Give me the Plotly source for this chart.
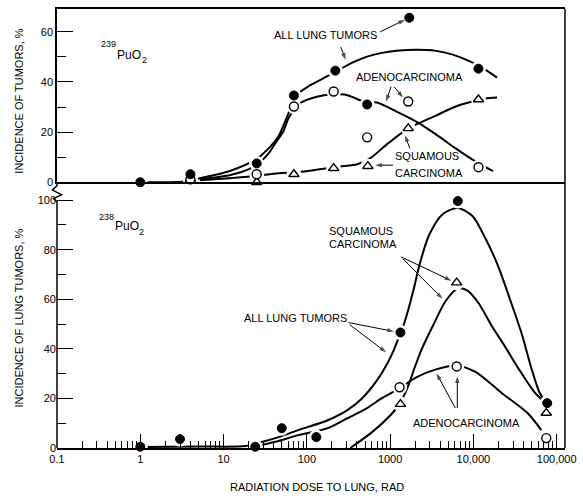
import math
import plotly.graph_objects as go

# ---- 239PuO2 (upper panel): observed incidence, %
top_all_dose = [1, 4, 25, 70, 220, 530, 1700, 11500]
top_all_pct = [0, 3.2, 7.5, 34.6, 44.5, 31.0, 65.6, 45.3]
top_adeno_dose = [4, 25, 70, 210, 530, 1650, 11500]
top_adeno_pct = [1.2, 3.2, 30.2, 36.2, 17.9, 32.2, 6.0]
top_squam_dose = [4, 25, 70, 210, 540, 1650, 11500]
top_squam_pct = [1.2, 0, 3.2, 5.6, 6.4, 21.5, 33.0]

# fitted curves, upper panel
top_all_fit_dose = [1, 3.4, 5.2, 11.7, 24.4, 34.8, 45.7, 60, 74.5, 103, 155, 234, 352, 529,
                    796, 1197, 2062, 3556, 5646, 9220, 13870, 19230]
top_all_fit_pct = [0, 0.3, 1.6, 4.4, 9.1, 13.5, 18.3, 27.4, 34.6, 38.1, 41.3, 44.5, 47.7, 50.1,
                   51.6, 52.4, 52.8, 52.4, 50.9, 48.1, 44.9, 41.7]
top_adeno_fit_dose = [5.2, 11.7, 20.2, 28.0, 34.8, 43.3, 52.3, 60.0, 78.7, 136, 283, 487, 695,
                      1197, 2062, 3556, 6124, 10570, 17230]
top_adeno_fit_pct = [1.2, 2.8, 5.2, 8.3, 11.5, 16.3, 20.3, 25.4, 31.0, 34.2, 35.0, 32.2, 31.8,
                     28.2, 24.2, 19.1, 13.5, 8.3, 4.4]
top_squam_fit_dose = [5.2, 11.7, 23.1, 45.7, 78.7, 210, 403, 574, 912, 1660, 3556, 6124, 9730,
                      13870, 19230]
top_squam_fit_pct = [0.8, 1.6, 2.4, 3.6, 4.0, 6.0, 7.2, 9.5, 15.1, 21.5, 26.6, 30.2, 32.2,
                     33.4, 33.8]

# ---- 238PuO2 (lower panel): observed incidence, %
bot_all_dose = [1, 3, 24, 50, 130, 1330, 6500, 77000]
bot_all_pct = [0.5, 3.6, 0.5, 8.0, 4.4, 46.6, 99.6, 18.1]
bot_adeno_dose = [1300, 6300, 75000]
bot_adeno_pct = [24.5, 32.9, 4.0]
bot_squam_dose = [1330, 6300, 75000]
bot_squam_pct = [17.7, 66.7, 14.1]

# fitted curves, lower panel
bot_all_fit_dose = [1.16, 5.18, 18.6, 28.7, 45.7, 78.7, 178, 307, 462, 695, 912, 1104, 1298,
                    1488, 1901, 2239, 2938, 4302, 6474, 9730, 13870, 19770, 27350, 37940,
                    49800, 61940, 70960]
bot_all_fit_pct = [0.4, 0.6, 0.8, 2.4, 4.4, 7.2, 11.2, 15.3, 20.1, 27.3, 33.7, 39.4, 45.4,
                   50.6, 63.5, 73.5, 85.9, 94.4, 96.8, 93.6, 84.7, 73.5, 60.2, 46.2, 32.1,
                   22.5, 19.3]
bot_adeno_fit_dose = [28.7, 45.7, 78.7, 178, 307, 529, 796, 1298, 2062, 3556, 6124, 10570,
                      22020, 44670, 65470]
bot_adeno_fit_pct = [1.2, 2.8, 5.2, 8.0, 12.0, 16.1, 20.1, 24.1, 28.5, 31.7, 33.3, 30.7,
                     22.1, 14.1, 7.2]
bot_squam_fit_dose = [333, 607, 989, 1298, 1660, 1954, 2364, 3276, 4667, 6474, 8490, 11460,
                      16780, 23880, 35940, 54060, 67170]
bot_squam_fit_pct = [0, 6.4, 12.9, 17.7, 25.3, 32.1, 39.4, 49.4, 59.4, 64.3, 63.5, 58.6,
                     49.0, 41.0, 31.3, 22.5, 19.3]

# label leader arrows: (log10 dose, % at tail), (log10 dose, % at head)
top_arrows = [
    ((2.881, 60.0), (3.178, 64.8)),   # ALL LUNG TUMORS -> point
    ((2.406, 54.0), (2.466, 48.9)),   # ALL LUNG TUMORS -> curve
    ((3.011, 38.1), (2.952, 32.2)),   # ADENOCARCINOMA -> curve
    ((3.047, 38.1), (3.154, 33.8)),   # ADENOCARCINOMA -> point
    ((3.237, 13.5), (3.178, 18.7)),   # SQUAMOUS CARCINOMA -> point
    ((3.035, 6.8), (2.822, 6.8)),     # SQUAMOUS CARCINOMA -> point
]
bot_arrows = [
    ((3.130, 77.1), (3.735, 67.5)),   # SQUAMOUS CARCINOMA -> point
    ((3.154, 76.3), (3.629, 60.2)),   # SQUAMOUS CARCINOMA -> curve
    ((2.501, 50.6), (3.047, 47.0)),   # ALL LUNG TUMORS -> point
    ((2.513, 49.8), (2.952, 38.6)),   # ALL LUNG TUMORS -> curve
    ((3.807, 16.1), (3.807, 28.9)),   # ADENOCARCINOMA -> point
    ((3.783, 16.1), (3.557, 30.1)),   # ADENOCARCINOMA -> curve
]

# axis ticks
x_tick_vals = [0.1, 1, 10, 100, 1000, 10000, 100000]
x_tick_text = ["0.1", "1", "10", "100", "1000", "10,000", "100,000"]
top_y_ticks = [0, 20, 40, 60]
bot_y_ticks = [0, 20, 40, 60, 80, 100]

FONT = "Liberation Sans, Arial, sans-serif"
INK = "black"
TOP_YMAX = 69.1
BOT_YMAX = 107.2
SPLIT = 0.6054

fig = go.Figure()


def curve(xs, ys, xa, ya):
    fig.add_trace(go.Scatter(
        x=xs, y=ys, xaxis=xa, yaxis=ya, mode="lines",
        line=dict(color=INK, width=2, shape="spline", smoothing=0.8),
        cliponaxis=False, hoverinfo="skip"))


def halo(xs, ys, xa, ya):
    fig.add_trace(go.Scatter(
        x=xs, y=ys, xaxis=xa, yaxis=ya, mode="markers",
        marker=dict(size=15, color="white", line=dict(width=0)),
        cliponaxis=False, hoverinfo="skip"))


def points(xs, ys, xa, ya, kind):
    if kind == "filled":
        m = dict(symbol="circle", size=9, color=INK, line=dict(color=INK, width=1))
    elif kind == "open":
        m = dict(symbol="circle", size=9, color="white", line=dict(color=INK, width=1.4))
    else:
        m = dict(symbol="triangle-up", size=9, color="white", line=dict(color=INK, width=1.4))
    fig.add_trace(go.Scatter(x=xs, y=ys, xaxis=xa, yaxis=ya, mode="markers",
                             marker=m, cliponaxis=False))


def leader(tail, head, xa, ya):
    fig.add_trace(go.Scatter(
        x=[10 ** tail[0], 10 ** head[0]], y=[tail[1], head[1]], xaxis=xa, yaxis=ya,
        mode="lines+markers", line=dict(color=INK, width=1),
        marker=dict(symbol="arrow", size=[0, 7], angleref="previous", color=INK,
                    line=dict(width=0)),
        cliponaxis=False, hoverinfo="skip"))


# curves
curve(top_all_fit_dose, top_all_fit_pct, "x2", "y2")
curve(top_adeno_fit_dose, top_adeno_fit_pct, "x2", "y2")
curve(top_squam_fit_dose, top_squam_fit_pct, "x2", "y2")
curve(bot_all_fit_dose, bot_all_fit_pct, "x", "y")
curve(bot_adeno_fit_dose, bot_adeno_fit_pct, "x", "y")
curve(bot_squam_fit_dose, bot_squam_fit_pct, "x", "y")

# white gaps where the curves meet the symbols
for d, p in [(top_all_dose, top_all_pct), (top_adeno_dose, top_adeno_pct),
             (top_squam_dose, top_squam_pct)]:
    halo(d, p, "x2", "y2")
for d, p in [(bot_all_dose, bot_all_pct), (bot_adeno_dose, bot_adeno_pct),
             (bot_squam_dose, bot_squam_pct)]:
    halo(d, p, "x", "y")

# symbols
points(top_squam_dose, top_squam_pct, "x2", "y2", "tri")
points(top_adeno_dose, top_adeno_pct, "x2", "y2", "open")
points(top_all_dose, top_all_pct, "x2", "y2", "filled")
points(bot_squam_dose, bot_squam_pct, "x", "y", "tri")
points(bot_adeno_dose, bot_adeno_pct, "x", "y", "open")
points(bot_all_dose, bot_all_pct, "x", "y", "filled")

# leader arrows
for t, h in top_arrows:
    leader(t, h, "x2", "y2")
for t, h in bot_arrows:
    leader(t, h, "x", "y")

annotations = []


def label(text, logx, pct, xa, ya, xanchor="center", size=11):
    annotations.append(dict(
        text=text, x=logx, y=pct, xref=xa, yref=ya, showarrow=False,
        xanchor=xanchor, yanchor="middle",
        font=dict(family=FONT, size=size, color=INK)))


# upper panel labels
label("239", -0.490, 55.0, "x2", "y2", xanchor="left", size=9)
label("PuO", -0.300, 50.9, "x2", "y2", xanchor="left", size=12)
label("2", -0.005, 48.6, "x2", "y2", xanchor="left", size=9)
label("ALL LUNG TUMORS", 2.227, 58.8, "x2", "y2")
label("ADENOCARCINOMA", 3.232, 42.1, "x2", "y2")
label("SQUAMOUS", 3.035, 10.3, "x2", "y2", xanchor="left")
label("CARCINOMA", 3.035, 3.6, "x2", "y2", xanchor="left")

# lower panel labels
label("238", -0.525, 93.0, "x", "y", xanchor="left", size=9)
label("PuO", -0.330, 89.6, "x", "y", xanchor="left", size=12)
label("2", -0.035, 87.3, "x", "y", xanchor="left", size=9)
label("SQUAMOUS", 2.240, 87.6, "x", "y", xanchor="left")
label("CARCINOMA", 2.240, 82.3, "x", "y", xanchor="left")
label("ALL LUNG TUMORS", 1.866, 52.6, "x", "y")
label("ADENOCARCINOMA", 3.923, 10.0, "x", "y")

# axis titles
annotations.append(dict(text="INCIDENCE OF TUMORS, %", xref="paper", yref="paper",
                        x=-0.075, y=0.791, textangle=-90, showarrow=False,
                        xanchor="center", yanchor="middle",
                        font=dict(family=FONT, size=11, color=INK)))
annotations.append(dict(text="INCIDENCE OF LUNG TUMORS, %", xref="paper", yref="paper",
                        x=-0.075, y=0.297, textangle=-90, showarrow=False,
                        xanchor="center", yanchor="middle",
                        font=dict(family=FONT, size=11, color=INK)))
annotations.append(dict(text="RADIATION DOSE TO LUNG, RAD", xref="paper", yref="paper",
                        x=0.512, y=-0.088, showarrow=False,
                        xanchor="center", yanchor="middle",
                        font=dict(family=FONT, size=11, color=INK)))

minor_x = [m * 10 ** e for e in range(-1, 5) for m in range(2, 10)]

shapes = [
    # right border of both panels
    dict(type="line", xref="paper", yref="paper", x0=1, x1=1, y0=0, y1=1,
         line=dict(color=INK, width=1.5)),
    # lower-panel vertical axis with its scale break
    dict(type="path", xref="paper", yref="y",
         path=(f"M 0,{BOT_YMAX} L 0,105.8 L -0.009,104 L 0.009,102.2 "
               f"L -0.007,100.6 L 0,99.4 L 0,0"),
         line=dict(color=INK, width=1.5)),
]

tickfont = dict(family=FONT, size=11, color=INK)

fig.update_layout(
    width=583, height=499,
    margin=dict(l=57, r=12, t=7, b=51),
    paper_bgcolor="white", plot_bgcolor="white",
    showlegend=False,
    annotations=annotations,
    shapes=shapes,
    xaxis=dict(type="log", range=[-1, 5.1], domain=[0, 1], anchor="y",
               tickmode="array", tickvals=x_tick_vals, ticktext=x_tick_text,
               ticks="inside", ticklen=14, tickwidth=1, tickcolor=INK,
               minor=dict(tickmode="array", tickvals=minor_x, ticks="inside",
                          ticklen=7, tickwidth=1, tickcolor=INK, showgrid=False),
               showline=True, linecolor=INK, linewidth=1.5,
               showgrid=False, zeroline=False, tickfont=tickfont),
    yaxis=dict(range=[0, BOT_YMAX], domain=[0, SPLIT], anchor="x",
               tickmode="array", tickvals=bot_y_ticks,
               ticks="inside", ticklen=16, tickwidth=1, tickcolor=INK,
               minor=dict(dtick=10, tick0=0, ticks="inside", ticklen=9,
                          tickwidth=1, tickcolor=INK, showgrid=False),
               showline=False, showgrid=False, zeroline=False, tickfont=tickfont),
    xaxis2=dict(type="log", range=[-1, 5.1], domain=[0, 1], anchor="y2", matches="x",
                showticklabels=False, ticks="",
                showline=True, mirror=True, linecolor=INK, linewidth=1.5,
                showgrid=False, zeroline=False),
    yaxis2=dict(range=[0, TOP_YMAX], domain=[SPLIT, 1], anchor="x2",
                tickmode="array", tickvals=top_y_ticks,
                ticks="inside", ticklen=16, tickwidth=1, tickcolor=INK,
                minor=dict(dtick=10, tick0=0, ticks="inside", ticklen=9,
                           tickwidth=1, tickcolor=INK, showgrid=False),
                showline=True, linecolor=INK, linewidth=1.5,
                showgrid=False, zeroline=False, tickfont=tickfont),
)

fig.write_html("out.html")
